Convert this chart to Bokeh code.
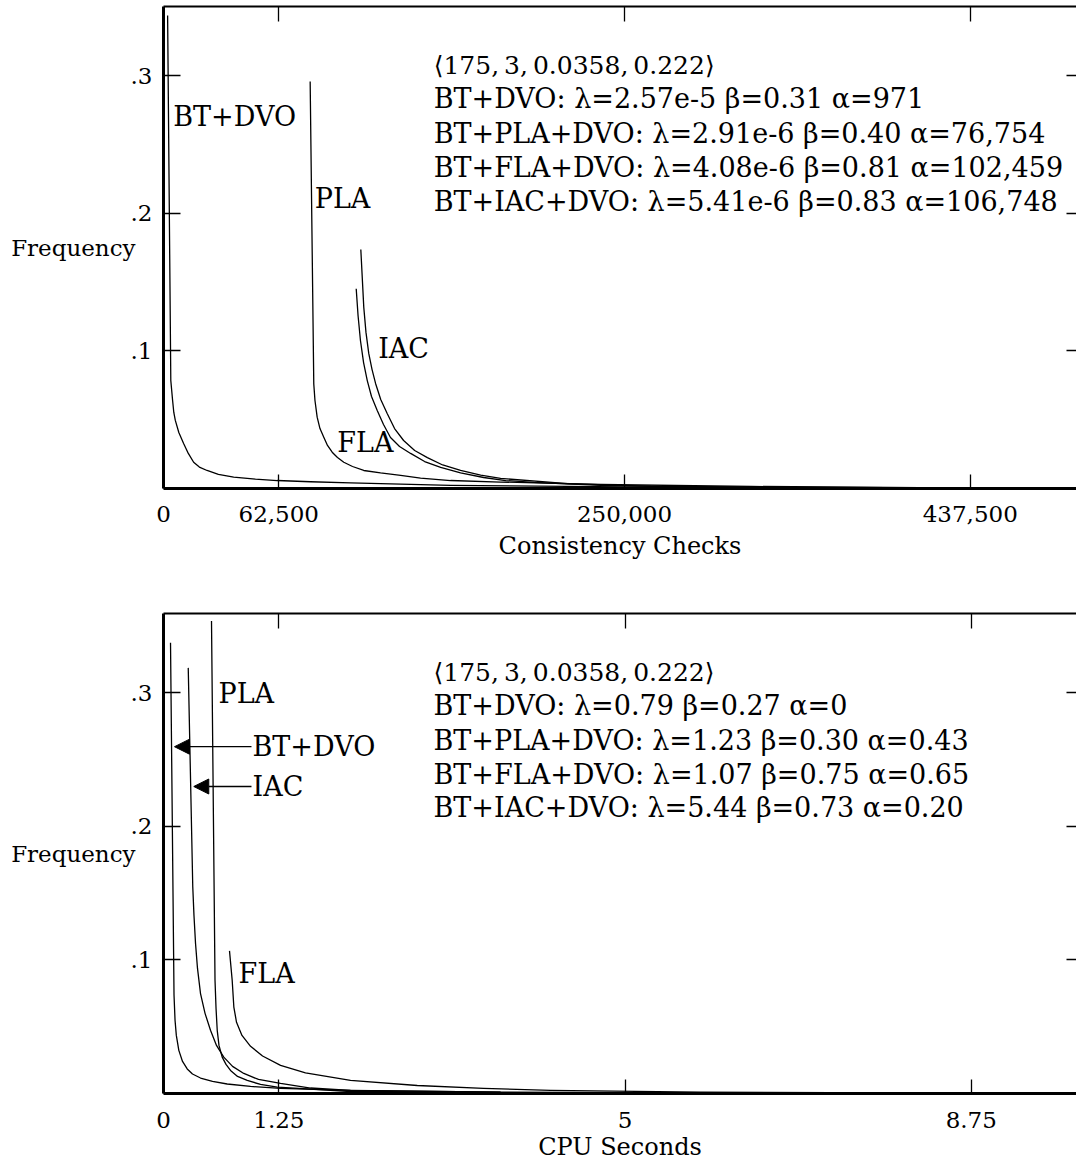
from bokeh.plotting import figure
from bokeh.models import (Range1d, LinearAxis, FixedTicker, CustomJSTickFormatter,
                          NumeralTickFormatter, Label, Arrow, NormalHead)
from bokeh.layouts import column
from bokeh.embed import file_html
from bokeh.resources import INLINE

FONT = "DejaVu Serif"

# ---------------- Top panel: consistency checks ----------------
cc_ticks = [0, 62500, 250000, 437500]
cc_top_ticks = [62500, 250000, 437500]
freq_ticks = [0.1, 0.2, 0.3]

cc_bt_dvo_x = [2230, 3960, 4940, 5590, 6410, 8310, 10910, 13460, 16340, 19440, 23620, 29750,
               38060, 49840, 61620, 79700, 101400, 128600, 155700, 251200, 427100]
cc_bt_dvo_y = [0.344, 0.0785, 0.064, 0.0553, 0.0495, 0.0407, 0.0327, 0.0255, 0.0191, 0.0156,
               0.0131, 0.0102, 0.0082, 0.0068, 0.0058, 0.0049, 0.0041, 0.0032, 0.0022, 0.0012, 0.0005]

cc_pla_x = [79530, 81490, 82140, 83330, 84850, 86920, 88930, 91480, 94350, 97770, 102500,
            108600, 117700, 128600, 139400, 155700, 182800, 237100, 318500, 427100]
cc_pla_y = [0.296, 0.0761, 0.064, 0.0519, 0.0436, 0.0373, 0.0313, 0.0264, 0.0225, 0.0191, 0.016,
            0.0131, 0.0113, 0.0095, 0.0076, 0.0058, 0.0047, 0.0029, 0.0015, 0.0005]

cc_fla_x = [104500, 105500, 106800, 108500, 110500, 112800, 115900, 119300, 123100, 128000,
            134000, 141600, 150300, 161100, 173600, 185600, 200800, 237100, 318600]
cc_fla_y = [0.1452, 0.1258, 0.1076, 0.0916, 0.0785, 0.0669, 0.0567, 0.0465, 0.0371, 0.0305,
            0.0255, 0.0196, 0.0153, 0.0113, 0.008, 0.0058, 0.0044, 0.0022, 0.0007]

cc_iac_x = [107000, 108600, 109800, 111300, 113100, 115000, 117800, 121300, 125300, 130200,
            136200, 143100, 151400, 161100, 172000, 182800, 219100, 264300, 345700]
cc_iac_y = [0.1738, 0.1319, 0.1135, 0.0982, 0.0865, 0.0764, 0.0647, 0.0545, 0.0436, 0.0349,
            0.0276, 0.0225, 0.0171, 0.0131, 0.0098, 0.0073, 0.0036, 0.0015, 0.0007]

cc_notes = [
    "\u27e8175,\u20093,\u20090.0358,\u20090.222\u27e9",
    "BT+DVO: \u03bb=2.57e-5 \u03b2=0.31 \u03b1=971",
    "BT+PLA+DVO: \u03bb=2.91e-6 \u03b2=0.40 \u03b1=76,754",
    "BT+FLA+DVO: \u03bb=4.08e-6 \u03b2=0.81 \u03b1=102,459",
    "BT+IAC+DVO: \u03bb=5.41e-6 \u03b2=0.83 \u03b1=106,748",
]

# ---------------- Bottom panel: CPU seconds ----------------
cpu_ticks = [0, 1.25, 5, 8.75]

cpu_bt_dvo_x = [0.076, 0.114, 0.125, 0.139, 0.166, 0.206, 0.257, 0.314, 0.401, 0.531, 0.690,
                0.943, 1.268, 2.026, 3.651, 5.818]
cpu_bt_dvo_y = [0.3374, 0.0735, 0.0548, 0.0435, 0.0323, 0.024, 0.0184, 0.0146, 0.0116, 0.009,
                0.0071, 0.0053, 0.0038, 0.0023, 0.0011, 0.0005]

cpu_iac_x = [0.268, 0.317, 0.330, 0.347, 0.368, 0.401, 0.450, 0.509, 0.574, 0.653, 0.748,
             0.870, 1.029, 1.268, 1.593, 2.026, 3.651]
cpu_iac_y = [0.3186, 0.1548, 0.1335, 0.1123, 0.0938, 0.0748, 0.06, 0.0473, 0.036, 0.0272,
             0.0203, 0.015, 0.0105, 0.0075, 0.0041, 0.0023, 0.0011]

cpu_pla_x = [0.520, 0.558, 0.569, 0.582, 0.601, 0.636, 0.677, 0.726, 0.802, 0.907, 1.051,
             1.232, 2.026, 3.651]
cpu_pla_y = [0.3536, 0.0848, 0.0638, 0.0473, 0.036, 0.0272, 0.0218, 0.0173, 0.0128, 0.0098,
             0.0068, 0.0047, 0.0015, 0.0008]

cpu_fla_x = [0.715, 0.744, 0.762, 0.791, 0.850, 0.943, 1.073, 1.268, 1.538, 2.026, 2.749,
             3.467, 4.193, 5.818, 7.985]
cpu_fla_y = [0.1068, 0.0848, 0.0647, 0.0533, 0.0435, 0.0353, 0.0281, 0.021, 0.0154, 0.0098,
             0.006, 0.0038, 0.0023, 0.0011, 0.0004]

cpu_notes = [
    "\u27e8175,\u20093,\u20090.0358,\u20090.222\u27e9",
    "BT+DVO: \u03bb=0.79 \u03b2=0.27 \u03b1=0",
    "BT+PLA+DVO: \u03bb=1.23 \u03b2=0.30 \u03b1=0.43",
    "BT+FLA+DVO: \u03bb=1.07 \u03b2=0.75 \u03b1=0.65",
    "BT+IAC+DVO: \u03bb=5.44 \u03b2=0.73 \u03b1=0.20",
]

freq_fmt = "return tick.toFixed(1).replace(/^0/, '');"


def make_fig(height, x_end, y_end, border_top, border_bottom, xticks, top_ticks,
             x_formatter, x_label, tick_standoff, label_standoff):
    p = figure(width=1076, height=height, x_range=Range1d(0, x_end), y_range=Range1d(0, y_end),
               output_backend="svg", toolbar_location=None,
               min_border_left=163, min_border_right=0,
               min_border_top=border_top, min_border_bottom=border_bottom,
               x_axis_type=None, y_axis_type=None)
    p.xgrid.visible = False
    p.ygrid.visible = False
    p.outline_line_color = None
    p.background_fill_color = "white"
    p.border_fill_color = "white"

    common = dict(major_tick_out=0, minor_tick_in=0, minor_tick_out=0,
                  major_label_text_font=FONT, axis_label_text_font=FONT,
                  major_label_text_color="black", axis_label_text_color="black",
                  axis_label_text_font_style="normal", major_tick_line_color="black")

    bottom = LinearAxis(ticker=FixedTicker(ticks=xticks), formatter=x_formatter,
                        major_tick_in=14, axis_line_width=3, axis_line_color="black",
                        major_tick_line_width=1.3,
                        major_label_text_font_size="23px", major_label_standoff=tick_standoff,
                        axis_label=x_label, axis_label_text_font_size="24px",
                        axis_label_standoff=label_standoff, **common)
    p.add_layout(bottom, "below")

    left = LinearAxis(ticker=FixedTicker(ticks=freq_ticks),
                      formatter=CustomJSTickFormatter(code=freq_fmt),
                      major_tick_in=17, axis_line_width=3, axis_line_color="black",
                      major_tick_line_width=1.3,
                      major_label_text_font_size="23px", major_label_standoff=11,
                      axis_label="Frequency", axis_label_text_font_size="23px",
                      axis_label_orientation="horizontal", axis_label_standoff=-8, **common)
    p.add_layout(left, "left")

    top = LinearAxis(ticker=FixedTicker(ticks=top_ticks),
                     formatter=CustomJSTickFormatter(code="return '';"),
                     major_tick_in=15, axis_line_width=2, axis_line_color="black",
                     major_tick_line_width=1.3,
                     major_label_text_font_size="0px", major_label_standoff=0, **common)
    p.add_layout(top, "above")

    right = LinearAxis(ticker=FixedTicker(ticks=freq_ticks),
                       formatter=CustomJSTickFormatter(code="return '';"),
                       major_tick_in=10, major_tick_line_width=1.3, axis_line_color=None,
                       major_label_text_font_size="0px", major_label_standoff=0, **common)
    p.add_layout(right, "right")
    return p


def label(p, x, y, text, size="27px"):
    p.add_layout(Label(x=x, y=y, text=text, text_font=FONT, text_font_size=size,
                       text_color="black", text_align="left", text_baseline="middle"))


# ---- top figure ----
p1 = make_fig(575, 495100, 0.3505, 6, 87, cc_ticks, cc_top_ticks,
              NumeralTickFormatter(format="0,0"), "Consistency Checks", 17, 7)
for xs, ys in [(cc_bt_dvo_x, cc_bt_dvo_y), (cc_pla_x, cc_pla_y),
               (cc_fla_x, cc_fla_y), (cc_iac_x, cc_iac_y)]:
    p1.line(xs, ys, line_color="black", line_width=1.3, line_join="round")

label(p1, 5300, 0.2705, "BT+DVO")
label(p1, 82000, 0.2109, "PLA")
label(p1, 116400, 0.1018, "IAC")
label(p1, 94200, 0.0337, "FLA")

cc_note_y = [0.3076, 0.2836, 0.2582, 0.2335, 0.2087]
for i, (t, yy) in enumerate(zip(cc_notes, cc_note_y)):
    label(p1, 146500, yy, t, "25px" if i == 0 else "27px")

# ---- bottom figure ----
p2 = make_fig(589, 9.89, 0.3593, 38, 71, cpu_ticks, cpu_ticks[1:],
              CustomJSTickFormatter(code="return String(tick);"), "CPU Seconds", 18, 2)
for xs, ys in [(cpu_bt_dvo_x, cpu_bt_dvo_y), (cpu_iac_x, cpu_iac_y),
               (cpu_pla_x, cpu_pla_y), (cpu_fla_x, cpu_fla_y)]:
    p2.line(xs, ys, line_color="black", line_width=1.3, line_join="round")

label(p2, 0.596, 0.2993, "PLA")
label(p2, 0.964, 0.2596, "BT+DVO")
label(p2, 0.964, 0.2298, "IAC")
label(p2, 0.813, 0.0900, "FLA")

p2.add_layout(Arrow(end=NormalHead(size=15, fill_color="black", line_color="black", line_width=1),
                    x_start=0.953, y_start=0.2596, x_end=0.119, y_end=0.2596,
                    line_color="black", line_width=1.3))
p2.add_layout(Arrow(end=NormalHead(size=15, fill_color="black", line_color="black", line_width=1),
                    x_start=0.953, y_start=0.2298, x_end=0.328, y_end=0.2298,
                    line_color="black", line_width=1.3))

cpu_note_y = [0.3151, 0.2903, 0.2641, 0.2386, 0.2138]
for i, (t, yy) in enumerate(zip(cpu_notes, cpu_note_y)):
    label(p2, 2.925, yy, t, "25px" if i == 0 else "27px")

layout = column(p1, p2, spacing=0)
open("out.html", "w").write(file_html(layout, INLINE))
